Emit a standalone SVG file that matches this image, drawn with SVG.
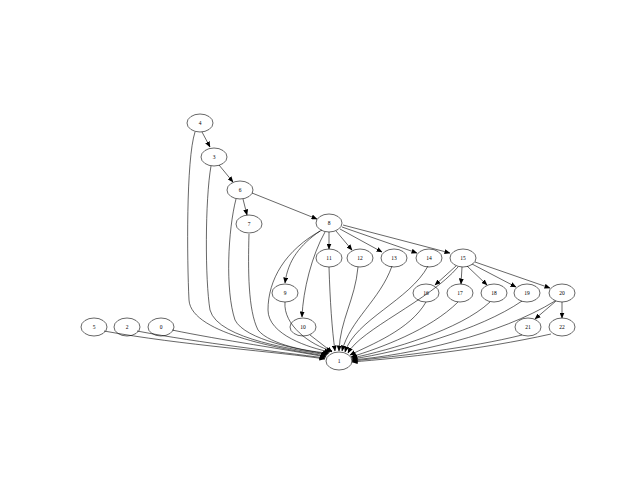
<svg xmlns="http://www.w3.org/2000/svg" width="640" height="480" viewBox="0 0 640 480">
<style>
.n ellipse{fill:none;stroke:#000;stroke-width:0.6}
.n text{font-family:"Liberation Serif",serif;font-size:5.5px;text-anchor:middle;fill:#000}
.e path{fill:none;stroke:#000;stroke-width:0.6;marker-end:url(#ah)}
</style>
<defs>
<marker id="ah" markerUnits="userSpaceOnUse" markerWidth="6" markerHeight="5" refX="5.5" refY="2.5" orient="auto">
<path d="M0,0 L6,2.5 L0,5 z" fill="#000"/>
</marker>
</defs>
<rect width="640" height="480" fill="#fff"/>
<g id="edges" class="e">
<path d="M202,132 L210,147"/>
<path d="M219,165 L233,182"/>
<path d="M243,199 L247,215"/>
<path d="M252,193 L317,219"/>
<path d="M320,231 C300,245 288,260 285,283"/>
<path d="M325,232 C312,255 303,290 302,317"/>
<path d="M329,232 L329,249"/>
<path d="M336,231 L352,250"/>
<path d="M340,229 L382,252"/>
<path d="M342,227 L417,253"/>
<path d="M343,225 L450,253"/>
<path d="M456,266 L435,285"/>
<path d="M462,267 L461,284"/>
<path d="M467,266 L487,285"/>
<path d="M472,264 L516,287"/>
<path d="M475,262 L550,288"/>
<path d="M556,301 L535,319"/>
<path d="M562,302 L562,318"/>
<path d="M104,331 C180,345 280,352 325,359"/>
<path d="M137,331 C200,343 280,352 325,358"/>
<path d="M172,330 C220,340 290,350 326,357"/>
<path d="M195,132 C186,160 187,260 189,300 C191,335 290,350 326,356"/>
<path d="M211,166 C205,200 205,280 210,310 C218,340 300,350 327,355"/>
<path d="M236,199 C228,230 225,290 235,320 C245,340 300,350 328,354"/>
<path d="M249,234 C248,270 248,310 258,330 C270,345 310,352 329,353"/>
<path d="M322,230 C285,250 268,280 268,310 C268,335 310,348 330,352"/>
<path d="M285,302 C283,325 310,345 332,351"/>
<path d="M310,335 L332,352"/>
<path d="M329,267 C330,300 332,330 335,351"/>
<path d="M358,267 C355,300 340,320 339,351"/>
<path d="M392,266 C380,300 350,320 342,351"/>
<path d="M428,266 C410,300 355,320 345,352"/>
<path d="M458,267 C430,300 360,330 348,353"/>
<path d="M426,302 C410,330 370,345 350,355"/>
<path d="M458,302 C430,330 380,348 351,357"/>
<path d="M490,302 C460,330 390,350 352,358"/>
<path d="M522,301 C480,330 400,352 352,359"/>
<path d="M555,301 C500,335 410,355 352,360"/>
<path d="M522,335 C470,348 400,356 352,361"/>
<path d="M551,334 C480,350 400,358 352,362"/>
</g>
<g id="n4" class="n"><ellipse cx="200" cy="123" rx="13" ry="9"/><text x="200" y="125">4</text></g>
<g id="n3" class="n"><ellipse cx="214" cy="157" rx="13" ry="9"/><text x="214" y="159">3</text></g>
<g id="n6" class="n"><ellipse cx="240" cy="190" rx="13" ry="9"/><text x="240" y="192">6</text></g>
<g id="n7" class="n"><ellipse cx="249" cy="224" rx="13" ry="9"/><text x="249" y="226">7</text></g>
<g id="n8" class="n"><ellipse cx="329" cy="223" rx="13" ry="9"/><text x="329" y="225">8</text></g>
<g id="n11" class="n"><ellipse cx="329" cy="258" rx="13" ry="9"/><text x="329" y="260">11</text></g>
<g id="n12" class="n"><ellipse cx="360" cy="258" rx="13" ry="9"/><text x="360" y="260">12</text></g>
<g id="n13" class="n"><ellipse cx="394" cy="258" rx="13" ry="9"/><text x="394" y="260">13</text></g>
<g id="n14" class="n"><ellipse cx="429" cy="258" rx="13" ry="9"/><text x="429" y="260">14</text></g>
<g id="n15" class="n"><ellipse cx="463" cy="258" rx="13" ry="9"/><text x="463" y="260">15</text></g>
<g id="n9" class="n"><ellipse cx="285" cy="293" rx="13" ry="9"/><text x="285" y="295">9</text></g>
<g id="n16" class="n"><ellipse cx="426" cy="293" rx="13" ry="9"/><text x="426" y="295">16</text></g>
<g id="n17" class="n"><ellipse cx="460" cy="293" rx="13" ry="9"/><text x="460" y="295">17</text></g>
<g id="n18" class="n"><ellipse cx="494" cy="293" rx="13" ry="9"/><text x="494" y="295">18</text></g>
<g id="n19" class="n"><ellipse cx="527" cy="293" rx="13" ry="9"/><text x="527" y="295">19</text></g>
<g id="n20" class="n"><ellipse cx="562" cy="293" rx="13" ry="9"/><text x="562" y="295">20</text></g>
<g id="n21" class="n"><ellipse cx="528" cy="327" rx="13" ry="9"/><text x="528" y="329">21</text></g>
<g id="n22" class="n"><ellipse cx="562" cy="327" rx="13" ry="9"/><text x="562" y="329">22</text></g>
<g id="n10" class="n"><ellipse cx="303" cy="327" rx="13" ry="9"/><text x="303" y="329">10</text></g>
<g id="n5" class="n"><ellipse cx="94" cy="327" rx="13" ry="9"/><text x="94" y="329">5</text></g>
<g id="n2" class="n"><ellipse cx="127" cy="327" rx="13" ry="9"/><text x="127" y="329">2</text></g>
<g id="n0" class="n"><ellipse cx="161" cy="327" rx="13" ry="9"/><text x="161" y="329">0</text></g>
<g id="n1" class="n"><ellipse cx="339" cy="361" rx="13" ry="9"/><text x="339" y="363">1</text></g>
</svg>
